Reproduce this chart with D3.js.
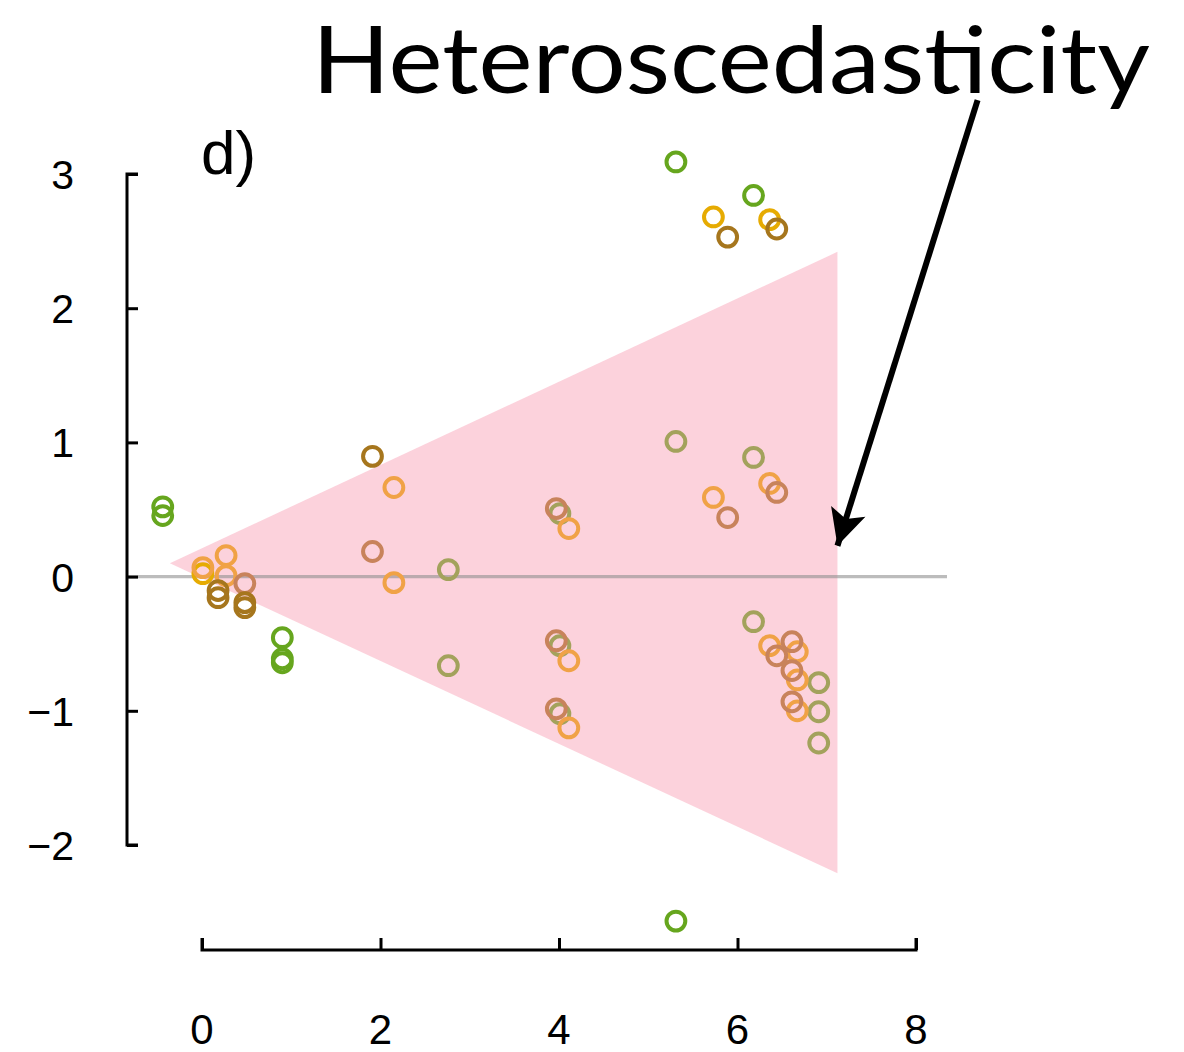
<!DOCTYPE html>
<html>
<head>
<meta charset="utf-8">
<script src="https://cdn.jsdelivr.net/npm/d3@7"></script>
<style>
  html, body { margin: 0; padding: 0; background: #fff; }
  svg { display: block; }
</style>
</head>
<body>
<svg id="chart" width="1184" height="1052"></svg>
<script>
// Residuals by group, six sources
const greenX  = [-0.44, -0.44, 0.9, 0.9, 0.9, 5.31, 6.18, 5.31];
const greenY  = [0.52, 0.455, -0.455, -0.612, -0.642, 3.09, 2.84, -2.567];
const yellowX = [0.01, 5.73, 6.36];
const yellowY = [0.022, 2.68, 2.66];
const oliveX  = [2.76, 2.76, 4.01, 4.01, 4.01, 5.31, 6.18, 6.18, 6.91, 6.91, 6.91];
const oliveY  = [0.052, -0.664, 0.47, -0.515, -1.022, 1.007, 0.888, -0.336, -0.79, -1.007, -1.24];
const orangeX = [0.01, 0.27, 0.27, 2.15, 2.15, 4.11, 4.11, 4.11, 5.73, 6.36, 6.36, 6.67, 6.67, 6.67];
const orangeY = [0.067, 0.157, 0.007, 0.664, -0.045, 0.358, -0.627, -1.127, 0.59, 0.694, -0.515, -0.56, -0.77, -1.0];
const roseX   = [0.48, 1.91, 3.97, 3.97, 3.97, 5.89, 6.44, 6.44, 6.61, 6.61, 6.61];
const roseY   = [-0.052, 0.187, 0.507, -0.478, -0.985, 0.44, 0.627, -0.59, -0.485, -0.70, -0.933];
const goldX   = [0.18, 0.18, 0.48, 0.48, 1.91, 5.89, 6.44];
const goldY   = [-0.104, -0.157, -0.194, -0.231, 0.896, 2.53, 2.59];

const xTicks = [0, 2, 4, 6, 8];
const yTicks = [-2, -1, 0, 1, 2, 3];

// Variance cone: apex and the two far corners
const coneX = [-0.36, 7.12, 7.12];
const coneY = [0.1, 2.42, -2.21];

// Annotation arrow, from the title down to the cone's mouth
const arrowX = [8.69, 7.12];
const arrowY = [3.55, 0.23];

const titleText = "Heteroscedasticity";
const panelLabel = "d)";

const series = [
  { xs: greenX,  ys: greenY,  color: "#66a61e" },
  { xs: yellowX, ys: yellowY, color: "#e6ab02" },
  { xs: oliveX,  ys: oliveY,  color: "#a3a25c" },
  { xs: orangeX, ys: orangeY, color: "#f0a246" },
  { xs: roseX,   ys: roseY,   color: "#c8835b" },
  { xs: goldX,   ys: goldY,   color: "#a6761d" }
];

const svg = d3.select("#chart");

const x = d3.scaleLinear().domain([0, 8]).range([202, 916]);
const y = d3.scaleLinear().domain([-2, 3]).range([845, 174]);

const fontAxis = "'Liberation Sans', Arial, Helvetica, sans-serif";

// Cone
svg.append("path")
  .attr("d", d3.line()(coneX.map((v, i) => [x(v), y(coneY[i])])) + "Z")
  .attr("fill", "#fab4c5")
  .attr("fill-opacity", 0.6);

// Zero reference line
svg.append("line")
  .attr("x1", 127).attr("x2", 947)
  .attr("y1", y(0)).attr("y2", y(0))
  .attr("stroke", "#8f8f8f")
  .attr("stroke-opacity", 0.6)
  .attr("stroke-width", 3.2);

// Points
series.forEach(s => {
  svg.append("g")
    .selectAll("circle")
    .data(s.xs.map((v, i) => [v, s.ys[i]]))
    .join("circle")
    .attr("cx", d => x(d[0]))
    .attr("cy", d => y(d[1]))
    .attr("r", 9.4)
    .attr("fill", "none")
    .attr("stroke", s.color)
    .attr("stroke-width", 4);
});

// Y axis
const yAxis = svg.append("g")
  .attr("transform", "translate(127,0)")
  .call(d3.axisRight(y).tickValues(yTicks).tickSize(11).tickFormat(""));
yAxis.select(".domain").attr("stroke", "#000").attr("stroke-width", 3)
  .attr("d", `M11,${y(3)}H0V${y(-2)}H11`);
yAxis.selectAll(".tick line").attr("stroke", "#000").attr("stroke-width", 3);
svg.append("g").selectAll("text")
  .data(yTicks)
  .join("text")
  .attr("x", 74)
  .attr("y", d => y(d) + 15)
  .attr("text-anchor", "end")
  .attr("font-family", fontAxis)
  .attr("font-size", 41)
  .attr("fill", "#000")
  .text(d => d < 0 ? "\u2212" + Math.abs(d) : d);

// X axis
const xAxis = svg.append("g")
  .attr("transform", "translate(0,950)")
  .call(d3.axisTop(x).tickValues(xTicks).tickSize(12).tickFormat(""));
xAxis.select(".domain").attr("stroke", "#000").attr("stroke-width", 3)
  .attr("d", `M${x(0)},-12V0H${x(8)}V-12`);
xAxis.selectAll(".tick line").attr("stroke", "#000").attr("stroke-width", 3);
svg.append("g").selectAll("text")
  .data(xTicks)
  .join("text")
  .attr("x", d => x(d))
  .attr("y", 1044)
  .attr("text-anchor", "middle")
  .attr("font-family", fontAxis)
  .attr("font-size", 42)
  .attr("fill", "#000")
  .text(d => d);

// Panel label
svg.append("text")
  .attr("x", 201)
  .attr("y", 174)
  .attr("font-family", fontAxis)
  .attr("font-size", 62)
  .attr("fill", "#000")
  .text(panelLabel);

// Title
svg.append("text")
  .attr("x", 312)
  .attr("y", 93)
  .attr("font-family", "Lato, 'Open Sans', sans-serif")
  .attr("font-size", 94)
  .attr("textLength", 838)
  .attr("lengthAdjust", "spacingAndGlyphs")
  .attr("fill", "#000")
  .text(titleText);

// Arrow
svg.append("defs").append("marker")
  .attr("id", "head")
  .attr("viewBox", "0 0 10 10")
  .attr("refX", 10).attr("refY", 5)
  .attr("markerUnits", "userSpaceOnUse")
  .attr("markerWidth", 46).attr("markerHeight", 36)
  .attr("orient", "auto")
  .append("path")
  .attr("d", "M0,0L10,5L0,10L2.2,5Z")
  .attr("fill", "#000");

svg.append("line")
  .attr("x1", x(arrowX[0])).attr("y1", y(arrowY[0]))
  .attr("x2", x(arrowX[1])).attr("y2", y(arrowY[1]))
  .attr("stroke", "#000")
  .attr("stroke-width", 6)
  .attr("marker-end", "url(#head)");
</script>
</body>
</html>
